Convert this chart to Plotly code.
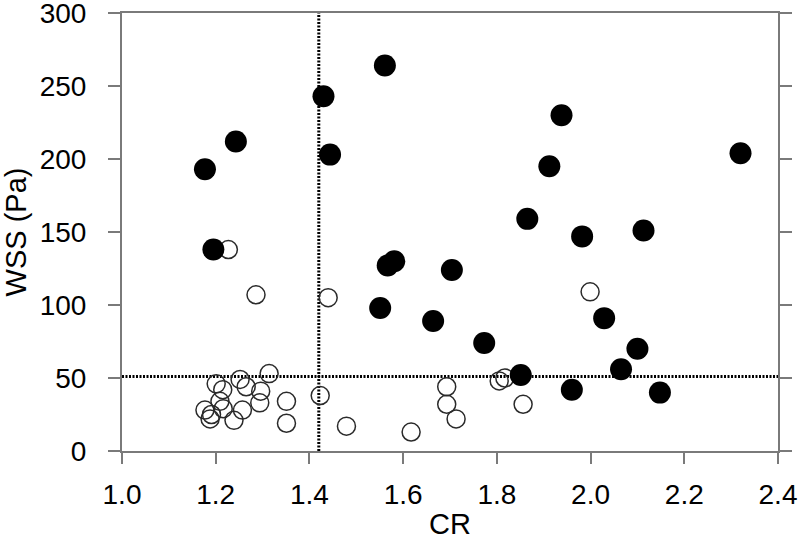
import plotly.graph_objects as go

# filled circles (above thresholds)
cr_filled = [1.177, 1.243, 1.195, 1.430, 1.444, 1.561, 1.551, 1.567, 1.581,
             1.664, 1.704, 1.773, 1.851, 1.865, 1.912, 1.938, 1.982, 2.113,
             2.029, 2.100, 2.065, 1.960, 2.148, 2.320]
wss_filled = [193, 212, 138, 243, 203, 264, 98, 127, 130,
              89, 124, 74, 52, 159, 195, 230, 147, 151,
              91, 70, 56, 42, 40, 204]

# open circles
cr_open = [1.227, 1.286, 1.440, 1.999, 1.314, 1.252, 1.201, 1.265, 1.215,
           1.296, 1.294, 1.209, 1.177, 1.216, 1.191, 1.188, 1.257, 1.239,
           1.351, 1.351, 1.423, 1.479, 1.617, 1.693, 1.693, 1.713, 1.805,
           1.817, 1.856]
wss_open = [138, 107, 105, 109, 53, 49, 46, 44, 42,
            41, 33, 34, 28, 29, 25, 22, 28, 21,
            34, 19, 38, 17, 13, 44, 32, 22, 48,
            50, 32]

x_ticks = [1.0, 1.2, 1.4, 1.6, 1.8, 2.0, 2.2, 2.4]
y_ticks = [0, 50, 100, 150, 200, 250, 300]

CR_CUT = 1.42
WSS_CUT = 51

AXIS_GRAY = "#7a7a7a"

fig = go.Figure()

fig.add_trace(go.Scatter(
    x=cr_open, y=wss_open, mode="markers",
    marker=dict(symbol="circle-open", size=18, color="#2a2a2a",
                line=dict(width=1.5, color="#2a2a2a")),
    showlegend=False, cliponaxis=False
))

fig.add_trace(go.Scatter(
    x=cr_filled, y=wss_filled, mode="markers",
    marker=dict(symbol="circle", size=22, color="black", line=dict(width=0)),
    showlegend=False, cliponaxis=False
))

# threshold lines
fig.add_shape(type="line", x0=CR_CUT, x1=CR_CUT, y0=0, y1=300,
              xref="x", yref="y", layer="below",
              line=dict(color="black", width=3, dash="2px,1.5px"))
fig.add_shape(type="line", x0=1.0, x1=2.4, y0=WSS_CUT, y1=WSS_CUT,
              xref="x", yref="y", layer="below",
              line=dict(color="black", width=3, dash="2px,1.5px"))

tick_font = dict(family="Liberation Sans, Arial, Helvetica, sans-serif", size=28, color="black")
title_font = dict(family="Liberation Sans, Arial, Helvetica, sans-serif", size=29, color="black")

fig.update_layout(
    width=800, height=543,
    margin=dict(l=122, r=22, t=13, b=92),
    paper_bgcolor="white", plot_bgcolor="white",
    font=tick_font,
    xaxis=dict(
        range=[1.0, 2.4], tickvals=x_ticks,
        ticktext=["%.1f" % v for v in x_ticks],
        showgrid=False, zeroline=False, automargin=False,
        showline=True, linecolor=AXIS_GRAY, linewidth=2, mirror=True,
        ticks="outside", ticklen=11, tickwidth=2, tickcolor=AXIS_GRAY,
        ticklabelstandoff=6, tickfont=tick_font, ticklabeloverflow="allow",
        title=dict(text="CR", font=title_font, standoff=5),
    ),
    yaxis=dict(
        range=[0, 300.001], tickvals=y_ticks,
        ticktext=[str(v) for v in y_ticks],
        showgrid=False, zeroline=False, automargin=False,
        showline=True, linecolor=AXIS_GRAY, linewidth=2, mirror="ticks",
        ticks="outside", ticklen=12, tickwidth=2, tickcolor=AXIS_GRAY,
        ticklabelstandoff=16, tickfont=tick_font, ticklabeloverflow="allow",
        title=dict(text="WSS (Pa)", font=title_font, standoff=22),
    ),
)

# drop the default page margin so the figure fills the window exactly
fig.write_html("out.html", config={"displayModeBar": False},
               post_script="document.body.style.margin='0';")
